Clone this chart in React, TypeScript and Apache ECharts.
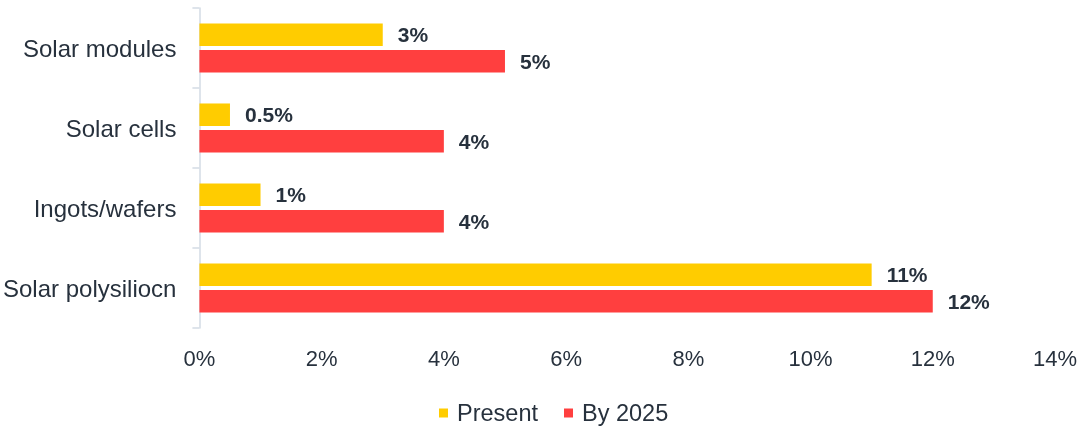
import React, { useEffect, useRef } from "react";
import * as echarts from "echarts";

const categories = ["Solar modules", "Solar cells", "Ingots/wafers", "Solar polysiliocn"];
const presentValues = [3, 0.5, 1, 11];
const by2025Values = [5, 4, 4, 12];
const xTicks = { min: 0, max: 14, interval: 2 };
const seriesNames = ["Present", "By 2025"];

const TEXT = "#27313d";
const AXIS = "#d3dbe4";
const FONT = "Liberation Sans, Arial, Helvetica, sans-serif";

export default function App() {
  const ref = useRef<HTMLDivElement>(null);
  useEffect(() => {
    if (!ref.current) return;
    const chart = echarts.init(ref.current, undefined, { renderer: "svg" });
    const label = {
      show: true,
      position: "right",
      distance: 15,
      formatter: (p: any) => `${p.value}%`,
      color: TEXT,
      fontFamily: FONT,
      fontWeight: "bold",
      fontSize: 21,
    };
    chart.setOption({
      animation: false,
      textStyle: { fontFamily: FONT },
      grid: { left: 195, right: 25, top: 8, bottom: 98, containLabel: false },
      legend: {
        top: 396,
        left: 434,
        icon: "rect",
        itemWidth: 9,
        itemHeight: 9,
        itemGap: 26,
        textStyle: { color: TEXT, fontSize: 23.5, fontFamily: FONT, padding: [0, 0, 0, 4] },
        data: seriesNames,
      },
      xAxis: {
        type: "value",
        min: xTicks.min,
        max: xTicks.max,
        interval: xTicks.interval,
        axisLine: { show: false },
        axisTick: { show: false },
        splitLine: { show: false },
        axisLabel: {
          formatter: "{value}%",
          color: TEXT,
          fontSize: 22,
          fontFamily: FONT,
          margin: 19,
        },
      },
      yAxis: {
        type: "category",
        data: categories,
        inverse: true,
        axisLine: { show: true, lineStyle: { color: AXIS, width: 1.5 } },
        axisTick: { show: true, length: 7, lineStyle: { color: AXIS, width: 1.5 } },
        axisLabel: { color: TEXT, fontSize: 24, fontFamily: FONT, margin: 23 },
      },
      series: [
        {
          name: seriesNames[0],
          type: "bar",
          data: presentValues,
          barWidth: 22.5,
          barGap: "18%",
          itemStyle: { color: "#FFCC00" },
          label,
        },
        {
          name: seriesNames[1],
          type: "bar",
          data: by2025Values,
          barWidth: 22.5,
          barGap: "18%",
          itemStyle: { color: "#FF3F3F" },
          label,
        },
      ],
    });
    return () => chart.dispose();
  }, []);
  return (
    <div
      ref={ref}
      style={{ position: "fixed", left: 0, top: 0, width: 1080, height: 426 }}
    />
  );
}
